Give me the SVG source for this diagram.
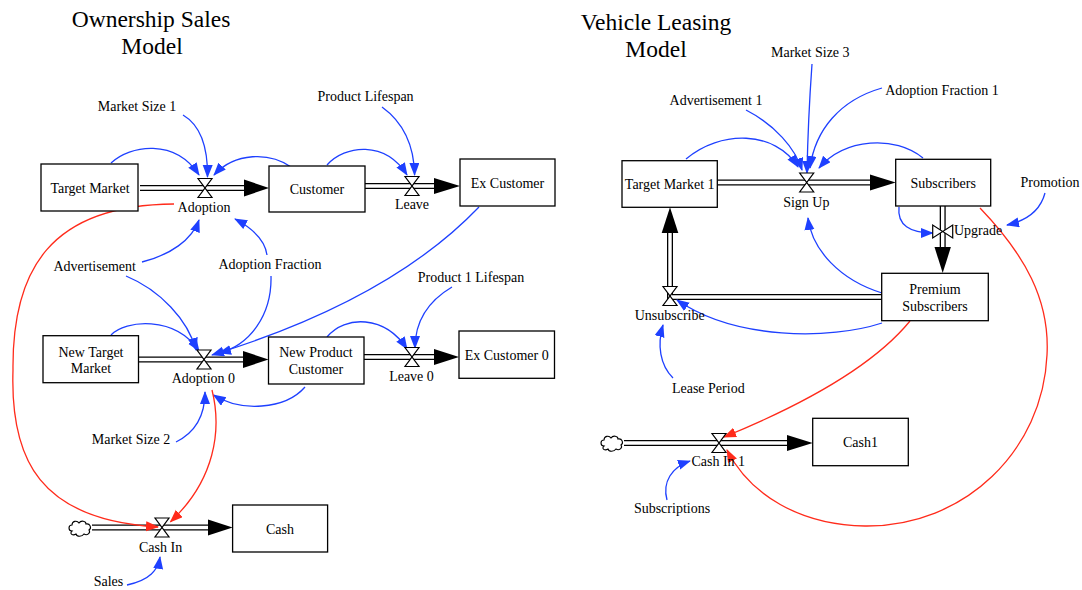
<svg xmlns="http://www.w3.org/2000/svg" width="1082" height="590" viewBox="0 0 1082 590">
<style>
text{font-family:"Liberation Serif","Times New Roman",serif;font-size:14px;fill:#000;text-anchor:middle}
.title{font-size:23.5px}
.box{fill:#fff;stroke:#000;stroke-width:1.3}
.po{fill:none;stroke:#000;stroke-width:6}
.pi{fill:none;stroke:#fff;stroke-width:3.4}
.ah{fill:#000}
.b{fill:none;stroke:#1e40ff;stroke-width:1.3;marker-end:url(#mb)}
.r{fill:none;stroke:#ff2b1b;stroke-width:1.3;marker-end:url(#mr)}
.valve{fill:#fff;stroke:#000;stroke-width:1.2}
.cloud{fill:#fff;stroke:#000;stroke-width:1.1}
</style>
<defs>
<marker id="mb" markerUnits="userSpaceOnUse" markerWidth="14" markerHeight="12" refX="12" refY="5" orient="auto"><path d="M0,0 L13,5 L0,10 Z" fill="#1e40ff"/></marker>
<marker id="mr" markerUnits="userSpaceOnUse" markerWidth="14" markerHeight="12" refX="12" refY="5" orient="auto"><path d="M0,0 L13,5 L0,10 Z" fill="#ff2b1b"/></marker>
<path id="valve" class="valve" d="M-7,-9.5 L7,-9.5 L-7,9.5 L7,9.5 Z"/>
<path id="valveh" class="valve" d="M-10,-6.5 L-10,6.5 L10,-6.5 L10,6.5 Z"/>
<path id="cloud" class="cloud" d="M-9,3 c-4,0 -4,-6 0,-6 c0,-4 5,-5 7,-2 c2,-3 7,-2 7,1 c4,-1 6,4 3,6 c2,3 -2,6 -5,4 c-2,3 -7,3 -8,0 c-3,2 -7,0 -4,-3 z"/>
</defs>
<rect width="1082" height="590" fill="#fff"/>

<g id="titles">
<text class="title" x="151" y="27">Ownership Sales</text>
<text class="title" x="152" y="53.5">Model</text>
<text class="title" x="656" y="30">Vehicle Leasing</text>
<text class="title" x="656" y="57">Model</text>
</g>

<g id="connectors">
<!-- flow pipes -->
<path class="po" d="M140,188 H246"/><path class="pi" d="M140,188 H247"/>
<polygon class="ah" points="244,179.5 269,188 244,196.5"/>
<path class="po" d="M365,186 H436"/><path class="pi" d="M365,186 H437"/>
<polygon class="ah" points="434,178 460,186 434,194"/>
<path class="po" d="M138.5,359.5 H245"/><path class="pi" d="M138.5,359.5 H246"/>
<polygon class="ah" points="243,351 268.5,359.5 243,368"/>
<path class="po" d="M364,357 H436"/><path class="pi" d="M364,357 H437"/>
<polygon class="ah" points="434,349 459,357 434,365"/>
<path class="po" d="M92,527.5 H210"/><path class="pi" d="M92,527.5 H211"/>
<polygon class="ah" points="208,519.5 232.6,527.5 208,535.5"/>
<path class="po" d="M717,182.5 H872"/><path class="pi" d="M717,182.5 H873"/>
<polygon class="ah" points="870,174.5 895.7,182.5 870,190.5"/>
<path class="po" d="M942.7,206 V249"/><path class="pi" d="M942.7,206 V250"/>
<polygon class="ah" points="934.5,247 942.7,273 950.9,247"/>
<path class="po" d="M882,297 H670 V231"/><path class="pi" d="M882,297 H670 V230"/>
<polygon class="ah" points="661.7,233 670,207.3 678.3,233"/>
<path class="po" d="M624,443 H789"/><path class="pi" d="M624,443 H790"/>
<polygon class="ah" points="787,435 812.7,443 787,451"/>

<!-- information links, left -->
<path class="b" d="M183,115 C200,125 208,145 207.5,177"/>
<path class="b" d="M111,163 C130,145 175,138 199,175"/>
<path class="b" d="M291,167 C270,152 235,152 214,175"/>
<path class="b" d="M382,107 C400,120 414,140 414.6,175"/>
<path class="b" d="M327,165 C345,145 385,140 407,175"/>
<path class="b" d="M142,262 C170,255 192,240 199,220"/>
<path class="b" d="M267,255 C265,240 252,228 235,219"/>
<path class="b" d="M126,276 C160,290 188,320 196,350"/>
<path class="b" d="M271,276 C272,315 250,345 219,353"/>
<path class="b" d="M479,207 Q390,300 212,355"/>
<path class="b" d="M452,287 C430,300 415,320 415,348"/>
<path class="b" d="M111,335 C125,320 175,315 199,351"/>
<path class="b" d="M327,337 C345,315 385,315 407,349"/>
<path class="b" d="M305,387 C285,410 240,412 213.6,395"/>
<path class="b" d="M176,442 C200,430 205,410 205,392"/>
<path class="b" d="M127,585 C150,580 158,570 160,557"/>
<path class="r" d="M174,204 C50,205 12,270 13,370 C10,460 40,520 158,527"/>
<path class="r" d="M212,390 C222,430 215,480 170.5,521.7"/>

<!-- information links, right -->
<path class="b" d="M812,64 Q808,120 807,173"/>
<path class="b" d="M746,110 C775,125 795,148 802,170"/>
<path class="b" d="M882,88 C840,100 815,130 810,168"/>
<path class="b" d="M686,159 C720,130 775,130 798,167"/>
<path class="b" d="M923,158 C895,135 845,138 819,168"/>
<path class="b" d="M882,293 C840,280 812,250 808,218"/>
<path class="b" d="M1045,193 C1040,212 1025,221 1007,225"/>
<path class="b" d="M899,207 C897,225 910,233 932.7,233"/>
<path class="b" d="M882,323 C830,340 735,340 677,300"/>
<path class="b" d="M673,378 C660,365 657,345 663,325"/>
<path class="b" d="M667,500 C662,482 672,467 690,461"/>
<path class="r" d="M910,321 C870,370 790,410 724,437"/>
<path class="r" d="M980,208 C1025,255 1050,300 1047,355 C1043,450 965,527 865,526 C800,525 750,495 727,450"/>
</g>

<!-- Ownership Sales Model nodes -->
<g id="target-market"><rect class="box" x="41" y="164" width="97" height="47"/><text x="90" y="192.5">Target Market</text></g>
<g id="customer"><rect class="box" x="269" y="166" width="96" height="46"/><text x="317" y="194">Customer</text></g>
<g id="ex-customer"><rect class="box" x="460" y="159" width="95" height="47"/><text x="507.5" y="187.5">Ex Customer</text></g>
<g id="adoption"><use href="#valve" x="205" y="188"/><text x="204" y="212">Adoption</text></g>
<g id="leave"><use href="#valve" x="412" y="186"/><text x="412" y="209">Leave</text></g>
<g id="market-size-1"><text x="137" y="110.7">Market Size 1</text></g>
<g id="product-lifespan"><text x="365.6" y="100.7">Product Lifespan</text></g>
<g id="advertisement"><text x="94.7" y="270.7">Advertisement</text></g>
<g id="adoption-fraction"><text x="270" y="269">Adoption Fraction</text></g>
<g id="product-1-lifespan"><text x="471" y="281.7">Product 1 Lifespan</text></g>
<g id="new-target-market"><rect class="box" x="43" y="335.7" width="95.5" height="47"/><text x="91" y="356.5">New Target</text><text x="91" y="373">Market</text></g>
<g id="new-product-customer"><rect class="box" x="268.5" y="337" width="95.5" height="47"/><text x="316" y="357">New Product</text><text x="316" y="374">Customer</text></g>
<g id="ex-customer-0"><rect class="box" x="459" y="331" width="95.5" height="47.3"/><text x="506.7" y="359.5">Ex Customer 0</text></g>
<g id="adoption-0"><use href="#valve" x="204" y="359.5"/><text x="203.4" y="383">Adoption 0</text></g>
<g id="leave-0"><use href="#valve" x="412" y="357"/><text x="411.5" y="380.7">Leave 0</text></g>
<g id="market-size-2"><text x="131" y="444.3">Market Size 2</text></g>
<g id="cloud-1"><use href="#cloud" x="81" y="528"/></g>
<g id="cash-in"><use href="#valve" x="162" y="527.5"/><text x="160.6" y="551.7">Cash In</text></g>
<g id="cash"><rect class="box" x="232.6" y="505" width="95" height="47"/><text x="280" y="533.5">Cash</text></g>
<g id="sales"><text x="108.5" y="586">Sales</text></g>

<!-- Vehicle Leasing Model nodes -->
<g id="target-market-1"><rect class="box" x="622" y="160.7" width="95.3" height="46.6"/><text x="669.7" y="189">Target Market 1</text></g>
<g id="subscribers"><rect class="box" x="895.7" y="159.3" width="95" height="46.7"/><text x="943.2" y="187.7">Subscribers</text></g>
<g id="sign-up"><use href="#valve" x="806.7" y="182.5"/><text x="806.3" y="206.7">Sign Up</text></g>
<g id="market-size-3"><text x="810.3" y="57.3">Market Size 3</text></g>
<g id="advertisement-1"><text x="716" y="105">Advertisement 1</text></g>
<g id="adoption-fraction-1"><text x="942" y="95">Adoption Fraction 1</text></g>
<g id="promotion"><text x="1050" y="186.7">Promotion</text></g>
<g id="upgrade"><use href="#valveh" x="942.7" y="231.5"/><text x="954" y="235" style="text-anchor:start">Upgrade</text></g>
<g id="premium-subscribers"><rect class="box" x="881.7" y="273.3" width="106.6" height="47.4"/><text x="935" y="294">Premium</text><text x="935" y="311">Subscribers</text></g>
<g id="unsubscribe"><use href="#valve" x="670" y="296"/><text x="669.7" y="320">Unsubscribe</text></g>
<g id="lease-period"><text x="708.3" y="392.7">Lease Period</text></g>
<g id="cloud-2"><use href="#cloud" x="613" y="443"/></g>
<g id="cash-in-1"><use href="#valve" x="719" y="443"/><text x="718.3" y="466">Cash In 1</text></g>
<g id="cash1"><rect class="box" x="812.7" y="418.3" width="95.6" height="47.4"/><text x="860.5" y="447">Cash1</text></g>
<g id="subscriptions"><text x="672" y="513.3">Subscriptions</text></g>
</svg>
